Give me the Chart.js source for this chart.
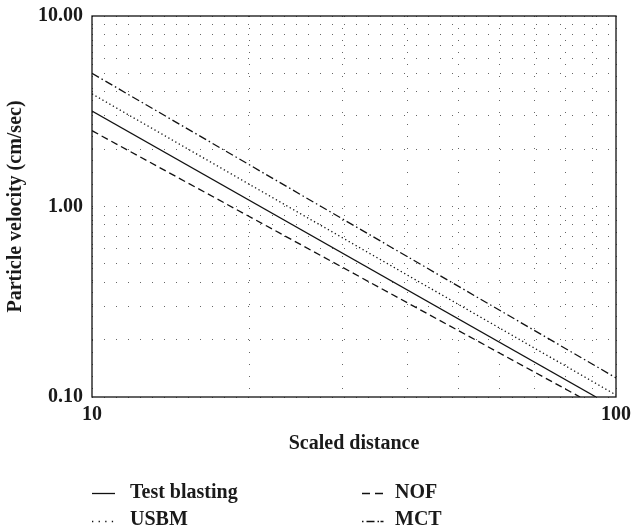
<!DOCTYPE html>
<html>
<head>
<meta charset="utf-8">
<script src="https://cdn.jsdelivr.net/npm/chart.js@4/dist/chart.umd.min.js"></script>
<style>
  html, body { margin: 0; padding: 0; background: #ffffff; }
  #wrap { width: 632px; height: 526px; }
</style>
</head>
<body>
<div id="wrap"><canvas id="chart" width="632" height="526"></canvas></div>
<script>
// Attenuation lines: [scaled distance, particle velocity (cm/sec)] end points
const seriesLabels = ['Test blasting', 'USBM', 'NOF', 'MCT'];
const testBlasting = [[10, 3.17], [91.6, 0.10]];
const usbm = [[10, 3.90], [100, 0.1025]];
const nof = [[10, 2.50], [85.4, 0.10]];
const mct = [[10, 5.00], [100, 0.126]];

// Axis ticks (grid positions) and the ones that carry a label
const xTickValues = [10, 20, 30, 40, 50, 60, 70, 80, 90, 100];
const xTickLabels = [10, 100];
const yTickValues = [0.1, 0.2, 0.3, 0.4, 0.5, 0.6, 0.7, 0.8, 0.9,
                     1, 2, 3, 4, 5, 6, 7, 8, 9, 10];
const yTickLabels = [0.1, 1, 10];

const FONT = '"Liberation Serif", "Times New Roman", serif';
const INK = '#1a1a1a';
const GRID = 'rgba(0,0,0,0.6)';

const toPoints = arr => arr.map(([x, y]) => ({ x, y }));
const lineStyles = [
  [],            // solid
  [1.3, 2.7],    // dotted
  [7, 4],        // dashed
  [8, 3, 1.5, 3] // dash-dot
];
// Legend samples use a slightly more open rhythm
const legendStyles = [[], [1.3, 5.3], [8, 5], [1.5, 3, 8, 3, 1.5]];
const seriesData = [testBlasting, usbm, nof, mct];

const datasets = seriesData.map((d, i) => ({
  label: seriesLabels[i],
  data: toPoints(d),
  showLine: true,
  borderColor: '#111111',
  borderWidth: 1.3,
  borderDash: lineStyles[i],
  pointRadius: 0,
  fill: false
}));

// Box around the plotting area
const framePlugin = {
  id: 'frame',
  afterDatasetsDraw(chart) {
    const { ctx, chartArea: a } = chart;
    ctx.save();
    ctx.strokeStyle = '#111111';
    ctx.lineWidth = 1.3;
    ctx.setLineDash([]);
    ctx.strokeRect(a.left, a.top, a.right - a.left, a.bottom - a.top);
    ctx.restore();
  }
};

// Two-column legend under the axis title
const legendPlugin = {
  id: 'twoColLegend',
  afterDraw(chart) {
    const { ctx } = chart;
    const cols = [{ x: 92, text: 130 }, { x: 362, text: 395 }];
    const rows = [{ line: 493.5, base: 498 }, { line: 521.5, base: 525 }];
    chart.data.datasets.forEach((ds, i) => {
      const c = cols[Math.floor(i / 2)];
      const r = rows[i % 2];
      ctx.save();
      ctx.strokeStyle = ds.borderColor;
      ctx.lineWidth = ds.borderWidth;
      ctx.setLineDash(legendStyles[i]);
      ctx.beginPath();
      ctx.moveTo(c.x, r.line);
      ctx.lineTo(c.x + 23, r.line);
      ctx.stroke();
      ctx.setLineDash([]);
      ctx.fillStyle = INK;
      ctx.font = 'bold 20px ' + FONT;
      ctx.textBaseline = 'alphabetic';
      ctx.textAlign = 'left';
      ctx.fillText(ds.label, c.text, r.base);
      ctx.restore();
    });
  }
};

new Chart(document.getElementById('chart'), {
  type: 'scatter',
  data: { datasets },
  options: {
    responsive: false,
    animation: false,
    layout: { padding: { left: 0, right: 16, top: 16, bottom: 70 } },
    plugins: { legend: { display: false }, tooltip: { enabled: false } },
    scales: {
      x: {
        type: 'logarithmic',
        min: 10,
        max: 100,
        afterBuildTicks: s => { s.ticks = xTickValues.map(v => ({ value: v })); },
        afterFit: s => { s.height = 59; s.paddingLeft = 0; s.paddingRight = 0; },
        ticks: {
          autoSkip: false,
          maxRotation: 0,
          padding: 6,
          color: INK,
          font: { family: FONT, size: 20, weight: 'bold' },
          callback: v => (xTickLabels.includes(v) ? String(v) : '')
        },
        grid: { color: GRID, lineWidth: 1, drawTicks: false },
        border: { display: false, dash: [1, 11] },
        title: {
          display: true,
          text: 'Scaled distance',
          color: INK,
          font: { family: FONT, size: 20, weight: 'bold' },
          padding: { top: 0, bottom: 0 }
        }
      },
      y: {
        type: 'logarithmic',
        min: 0.1,
        max: 10,
        afterBuildTicks: s => { s.ticks = yTickValues.map(v => ({ value: v })); },
        afterFit: s => { s.width = 92; s.paddingTop = 0; s.paddingBottom = 0; },
        ticks: {
          autoSkip: false,
          padding: 9,
          color: INK,
          font: { family: FONT, size: 20, weight: 'bold' },
          callback: v => (yTickLabels.includes(v) ? v.toFixed(2) : '')
        },
        grid: { color: GRID, lineWidth: 1, drawTicks: false },
        border: { display: false, dash: [1, 11] },
        title: {
          display: true,
          text: 'Particle velocity (cm/sec)',
          color: INK,
          font: { family: FONT, size: 20, weight: 'bold' },
          padding: { top: 4, bottom: 0 }
        }
      }
    }
  },
  plugins: [framePlugin, legendPlugin]
});
</script>
</body>
</html>
